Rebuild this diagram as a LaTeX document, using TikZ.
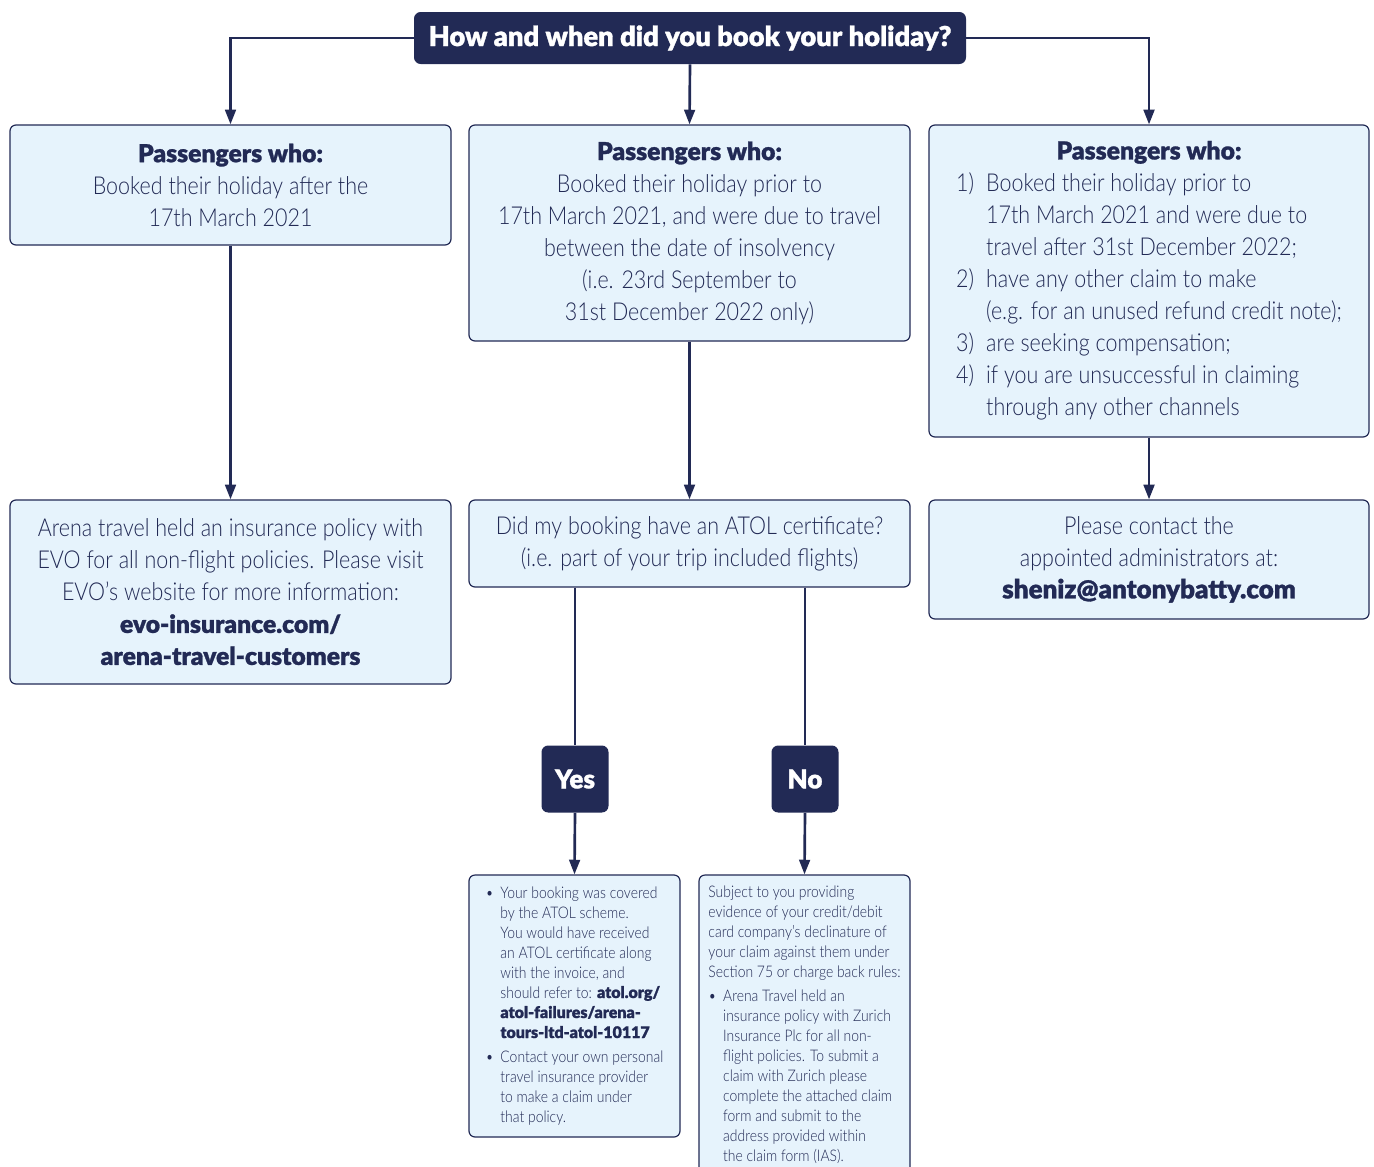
\documentclass[tikz,border=0pt]{standalone}
\usepackage{fontspec}
\setmainfont{Lato Light}[FakeStretch=0.87]
\newfontfamily\heavy{Lato Black}[FakeBold=1.2]
\usetikzlibrary{arrows.meta}
\definecolor{navy}{RGB}{34,42,85}
\definecolor{paleblue}{RGB}{230,243,252}
\newcommand\bigtxt{\fontsize{18.5}{24}\selectfont}
\newcommand\smalltxt{\fontsize{12}{15}\selectfont}
\newcommand\hv[1]{{\heavy #1}}

\begin{document}
\begin{tikzpicture}[x=0.75pt,y=0.75pt,yscale=-1,xscale=1,
  infobox/.style={draw=navy, fill=paleblue, rounded corners=4.5pt, line width=0.9pt, text=navy, align=center, inner sep=0pt},
  darkbox/.style={fill=navy, rounded corners=5pt, text=white, inner sep=0pt},
  flow/.style={draw=navy, line width=2pt},
  flowarrow/.style={flow, -{Triangle[width=8pt,length=11pt]}}]
\useasboundingbox (0,0) rectangle (1374,1167);

%Title
\draw (690,38) node (title) [darkbox, minimum width=414pt, minimum height=39pt, font=\fontsize{20.5}{24}\heavy] {How and when did you book your holiday?};

% Text Node
\draw (230.5,185) node (after) [infobox, minimum width=330.75pt, minimum height=90pt, font=\bigtxt] {\hv{Passengers who:}\\Booked their holiday after the\\17th March 2021};
% Text Node
\draw (689.5,233) node (prior) [infobox, minimum width=330.75pt, minimum height=162pt, font=\bigtxt] {\hv{Passengers who:}\\Booked their holiday prior to\\17th March 2021, and were due to travel\\between the date of insolvency\\(i.e. 23rd September to\\31st December 2022 only)};
% Text Node
\draw (1149,281) node (other) [infobox, minimum width=330pt, minimum height=234pt, font=\bigtxt] {\begin{tabular}{@{}r@{\hspace{9pt}}l@{}}
\multicolumn{2}{c}{\hv{Passengers who:}}\\
1) & Booked their holiday prior to\\
   & 17th March 2021 and were due to\\
   & travel after 31st December 2022;\\
2) & have any other claim to make\\
   & (e.g. for an unused refund credit note);\\
3) & are seeking compensation;\\
4) & if you are unsuccessful in claiming\\
   & through any other channels
\end{tabular}};

% Text Node
\draw (230.5,592) node (evo) [infobox, minimum width=330.75pt, minimum height=138pt, font=\bigtxt] {Arena travel held an insurance policy with\\EVO for all non-flight policies. Please visit\\EVO’s website for more information:\\\hv{evo-insurance.com/}\\\hv{arena-travel-customers}};
% Text Node
\draw (689.5,543.5) node (atol) [infobox, minimum width=330.75pt, minimum height=65.25pt, font=\bigtxt] {Did my booking have an ATOL certificate?\\(i.e. part of your trip included flights)};
% Text Node
\draw (1149,559.5) node (admin) [infobox, minimum width=330pt, minimum height=89.25pt, font=\bigtxt] {Please contact the\\appointed administrators at:\\{\fontsize{19.5}{24}\heavy sheniz@antonybatty.com}};

%Yes / No
\draw (575,779) node (yes) [darkbox, minimum size=50.25pt, font=\fontsize{19.5}{20}\heavy] {Yes};
\draw (805,779) node (no) [darkbox, minimum size=50.25pt, font=\fontsize{19.5}{20}\heavy] {No};

% Text Node
\draw (574.5,1006) node (covered) [infobox, minimum width=158.25pt, minimum height=196.5pt, font=\smalltxt, align=left] {\begin{tabular}{@{}l@{\hspace{5pt}}l@{}}
\textbullet & Your booking was covered\\
 & by the ATOL scheme.\\
 & You would have received\\
 & an ATOL certificate along\\
 & with the invoice, and\\
 & should refer to: \hv{atol.org/}\\
 & \hv{atol-failures/arena-}\\
 & \hv{tours-ltd-atol-10117}\\[3pt]
\textbullet & Contact your own personal\\
 & travel insurance provider\\
 & to make a claim under\\
 & that policy.
\end{tabular}};
% Text Node
\draw (804.5,1025) node (zurich) [infobox, minimum width=158.25pt, minimum height=225pt, font=\smalltxt, align=left] {\begin{tabular}{@{}l@{\hspace{5pt}}l@{}}
\multicolumn{2}{@{}l@{}}{Subject to you providing}\\
\multicolumn{2}{@{}l@{}}{evidence of your credit/debit}\\
\multicolumn{2}{@{}l@{}}{card company’s declinature of}\\
\multicolumn{2}{@{}l@{}}{your claim against them under}\\
\multicolumn{2}{@{}l@{}}{Section 75 or charge back rules:}\\[3pt]
\textbullet & Arena Travel held an\\
 & insurance policy with Zurich\\
 & Insurance Plc for all non-\\
 & flight policies. To submit a\\
 & claim with Zurich please\\
 & complete the attached claim\\
 & form and submit to the\\
 & address provided within\\
 & the claim form (IAS).
\end{tabular}};

%Straight Lines
\draw [flowarrow] (title.west) -| (after.north);
\draw [flowarrow] (title.south) -- (prior.north);
\draw [flowarrow] (title.east) -| (other.north);
\draw [flowarrow] (after.south) -- (evo.north);
\draw [flowarrow] (prior.south) -- (atol.north);
\draw [flowarrow] (other.south) -- (admin.north);
\draw [flow] (atol.south -| yes.north) -- (yes.north);
\draw [flow] (atol.south -| no.north) -- (no.north);
\draw [flowarrow] (yes.south) -- (covered.north);
\draw [flowarrow] (no.south) -- (zurich.north);

\end{tikzpicture}
\end{document}
